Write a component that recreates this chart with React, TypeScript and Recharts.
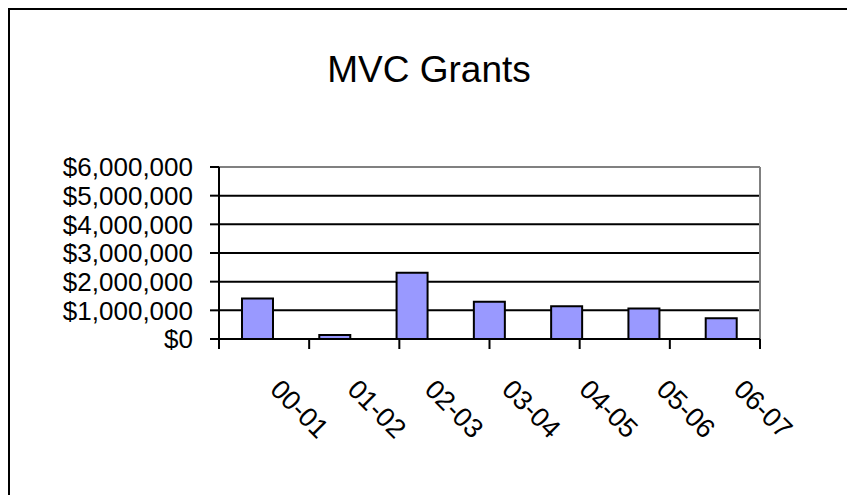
import { Bar, BarChart, CartesianGrid, XAxis, YAxis } from "recharts";

const categories = ["00-01", "01-02", "02-03", "03-04", "04-05", "05-06", "06-07"];
const grants = [1410000, 140000, 2310000, 1300000, 1140000, 1060000, 720000];
const yTicks = [0, 1000000, 2000000, 3000000, 4000000, 5000000, 6000000];
const edgeTicks = [0, 1, 2, 3, 4, 5, 6, 7];

const data = categories.map((year, i) => ({ year, amount: grants[i] }));

const FONT = '"Liberation Sans", Arial, sans-serif';

const money = (v: number) => "$" + v.toLocaleString("en-US");

function YTick(props: any) {
  const { x, y, payload } = props;
  return (
    <text x={x} y={y} dy="0.36em" textAnchor="end" fontFamily={FONT} fontSize={26} fill="#000">
      {money(payload.value)}
    </text>
  );
}

function XTick(props: any) {
  const { x, y, payload } = props;
  const tx = x + 11;
  const ty = y + 40;
  return (
    <text
      x={tx}
      y={ty}
      textAnchor="start"
      fontFamily={FONT}
      fontSize={27}
      fill="#000"
      transform={`rotate(45, ${tx}, ${ty})`}
    >
      {payload.value}
    </text>
  );
}

const NoLabel = () => <g />;

export default function App() {
  return (
    <div style={{ position: "fixed", left: 0, top: 0, width: 847, height: 495, background: "#fff" }}>
      <style>{"html{overflow:hidden;background:#fff}"}</style>
      {/* outer frame, open at the bottom like the cropped original */}
      <div
        style={{
          position: "absolute",
          left: 8,
          top: 8,
          width: 837,
          height: 500,
          borderTop: "2px solid #000",
          borderLeft: "2px solid #000",
          borderRight: "2px solid #000",
        }}
      />
      <div style={{ position: "absolute", left: 10, top: 10 }}>
        <BarChart
          width={835}
          height={480}
          data={data}
          margin={{ top: 157, right: 85, left: 0, bottom: 39 }}
          barSize={31}
        >
          <CartesianGrid vertical={false} stroke="#000" strokeWidth={2} />
          {/* grey plot-area border on top and right */}
          <CartesianGrid
            stroke="#808080"
            strokeWidth={2}
            horizontalCoordinatesGenerator={({ offset }: any) => [offset.top]}
            verticalCoordinatesGenerator={({ offset }: any) => [offset.left + offset.width]}
          />
          <XAxis
            xAxisId={0}
            type="number"
            domain={[0, 7]}
            ticks={edgeTicks}
            interval={0}
            allowDataOverflow
            height={12}
            tick={<NoLabel />}
            tickSize={10}
            axisLine={{ stroke: "#000", strokeWidth: 2 }}
            tickLine={{ stroke: "#000", strokeWidth: 2 }}
          />
          <XAxis
            xAxisId={1}
            dataKey="year"
            height={100}
            axisLine={false}
            tickLine={false}
            tickSize={0}
            tickMargin={0}
            interval={0}
            tick={<XTick />}
          />
          <YAxis
            width={209}
            domain={[0, 6000000]}
            ticks={yTicks}
            interval={0}
            tickSize={9}
            tickMargin={17}
            axisLine={{ stroke: "#000", strokeWidth: 2 }}
            tickLine={{ stroke: "#000", strokeWidth: 2 }}
            tick={<YTick />}
          />
          <Bar
            xAxisId={1}
            dataKey="amount"
            fill="#9999FF"
            stroke="#000"
            strokeWidth={2}
            isAnimationActive={false}
          />
        </BarChart>
      </div>
      <svg
        width={847}
        height={130}
        style={{ position: "absolute", left: 0, top: 0, pointerEvents: "none" }}
      >
        <text x={429} y={82} textAnchor="middle" fontFamily={FONT} fontSize={37} fill="#000">
          MVC Grants
        </text>
      </svg>
    </div>
  );
}
